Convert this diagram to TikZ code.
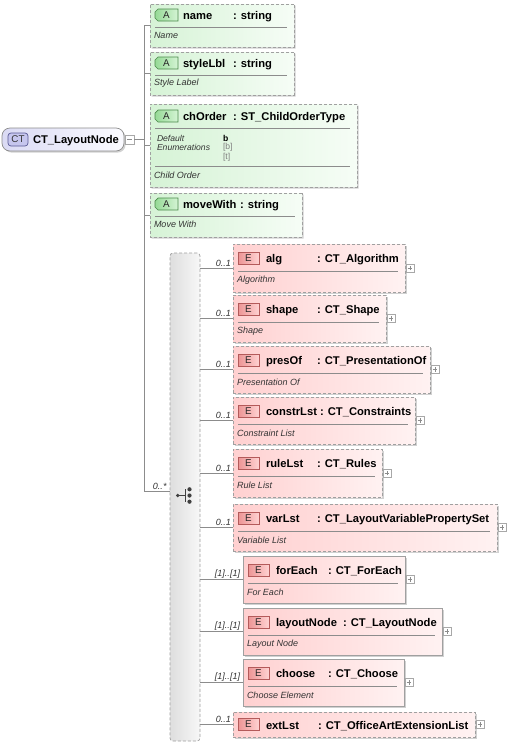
\documentclass[tikz,border=0pt]{standalone}
\usepackage{fontspec}
\setmainfont{Liberation Sans}
\usetikzlibrary{shapes.misc,shadows,calc}
\definecolor{lineG}{HTML}{8C8C8C}
\definecolor{boxB}{HTML}{A0A0A0}
\definecolor{attL}{HTML}{D6F3D6}
\definecolor{attR}{HTML}{F6FDF6}
\definecolor{elL}{HTML}{FFD0D0}
\definecolor{elR}{HTML}{FFF2F2}
\definecolor{ebL}{HTML}{EC9494}
\definecolor{ebR}{HTML}{FFD2D2}
\definecolor{ebB}{HTML}{B45A5A}
\definecolor{abL}{HTML}{96DA96}
\definecolor{abR}{HTML}{D4F4D4}
\definecolor{abB}{HTML}{4A8A4A}
\definecolor{ctL}{HTML}{DADAF4}
\definecolor{ctR}{HTML}{FBFBFF}
\definecolor{cbF}{HTML}{C6C6EE}
\definecolor{cbB}{HTML}{5A5A96}
\definecolor{docC}{HTML}{333333}
\definecolor{btnB}{HTML}{A8A8A8}
\tikzset{
  conn/.style={draw=lineG, line width=0.7pt},
  sepl/.style={draw=black!45, line width=0.6pt},
  shad/.style={drop shadow={shadow xshift=1.6pt, shadow yshift=-1.6pt, opacity=0.18, fill=black}},
  optb/.style={dash pattern=on 3pt off 2pt},
  reqb/.style={solid},
  ab/.style={chamfered rectangle, chamfered rectangle xsep=4pt, chamfered rectangle ysep=4pt,
    draw=boxB, line width=0.7pt, optb, left color=attL, right color=attR, anchor=north west, shad},
  elb/.style={rectangle, draw=boxB, line width=0.7pt, left color=elL, right color=elR, anchor=north west, shad},
  seqb/.style={rectangle, rounded corners=3pt, draw=boxB, line width=0.7pt, optb,
    left color=black!13, right color=black!3, anchor=north west},
  ctb/.style={rectangle, rounded corners=8pt, draw=black!45, line width=0.7pt, left color=ctL, right color=ctR, anchor=north west, shad},
  ctbadge/.style={rectangle, rounded corners=3pt, draw=cbB, line width=0.7pt, fill=cbF, anchor=north west,
    minimum width=20pt, minimum height=13pt, font=\fontsize{9.8}{11}\selectfont, text=black!80},
  ebadge/.style={rectangle, draw=ebB, line width=0.7pt, left color=ebL, right color=ebR, anchor=north west,
    minimum width=21pt, minimum height=12pt, font=\fontsize{9.8}{11}\selectfont, text=black!85},
  abadge/.style={rectangle, draw=none, anchor=north west,
    minimum width=23pt, minimum height=12pt, font=\fontsize{9.8}{11}\selectfont, text=black!85},
  abshape/.style={draw=abB, line width=0.7pt, left color=abL, right color=abR},
  nm/.style={anchor=base west, font=\fontsize{11.2}{13}\selectfont\bfseries, text=black},
  doc/.style={anchor=west, font=\fontsize{9}{10}\selectfont\itshape, text=docC},
  card/.style={anchor=south east, font=\fontsize{9}{10}\selectfont\itshape, text=docC},
  plusbtn/.style={rectangle, draw=btnB, line width=0.6pt, fill=white, minimum size=8pt, anchor=west,
    path picture={\draw[black!45, line width=0.6pt] ([xshift=-2.3pt]path picture bounding box.center) -- ([xshift=2.3pt]path picture bounding box.center)
      ([yshift=-2.3pt]path picture bounding box.center) -- ([yshift=2.3pt]path picture bounding box.center);}},
  minusbtn/.style={rectangle, draw=btnB, line width=0.6pt, fill=white, minimum size=9pt, anchor=west,
    path picture={\draw[black!45, line width=0.6pt] ([xshift=-2.5pt]path picture bounding box.center) -- ([xshift=2.5pt]path picture bounding box.center);}},
}
% A badge: chamfered on the left side, drawn round a plain node
\newcommand\abadgeat[3]{% id, x, y (top-left)
  \path[abshape] (#2+3,#3) -- (#2+23,#3) -- (#2+23,#3+12) -- (#2+3,#3+12) -- (#2,#3+9) -- (#2,#3+3) -- cycle;
  \node[abadge] (#1) at (#2,#3) {A};
}
\newcommand\elbox[6]{%
  \node[elb,#6,minimum width={#4-#2},minimum height={#5-#3}] (#1) at (#2,#3) {};
  \node[plusbtn] (#1x) at ([xshift=1pt]#1.east) {};
}
\newcommand\eltext[7]{%
  \node[ebadge] (#1b) at (#2+5,#3+8) {E};
  \node[nm] (#1n) at (#2+33,#3+18) {#4};
  \node[nm] (#1t) at (#5,#3+18) {#6};
  \draw[sepl] (#2+5,#3+27) -- ([xshift=-7pt]#1.east |- 0,#3+27);
  \node[doc] (#1d) at (#2+4,#3+36) {#7};
}
\newcommand\attbox[5]{%
  \node[ab,minimum width={#4-#2},minimum height={#5-#3}] (#1) at (#2,#3) {};
}
\newcommand\atttext[6]{%
  \abadgeat{#1b}{#2+5}{#3+5}
  \node[nm] (#1n) at (#2+33,#3+15) {#4};
  \node[nm] (#1t) at (#5,#3+15) {: string};
  \draw[sepl] (#2+5,#3+23) -- ([xshift=-7pt]#1.east |- 0,#3+23);
  \node[doc] (#1d) at (#2+4,#3+31) {#6};
}
\begin{document}
\begin{tikzpicture}[x=1pt,y=-1pt, every node/.style={inner sep=0pt, outer sep=0pt}]
\useasboundingbox (0,0) rectangle (508,745);
\fill[white] (0,0) rectangle (508,745);

% root
\node[ctb, minimum width=122pt, minimum height=23pt] (ct) at (2,128) {};
\node[ctbadge] (ctbg) at (8,133) {CT};
\node[nm] (ctn) at (33,143.2) {CT\_LayoutNode};
\node[minusbtn] (ctx) at ([xshift=1pt]ct.east) {};

% attributes
\attbox{a1}{150}{4}{294}{47}
\atttext{a1}{150}{4}{name}{233}{Name}
\attbox{a2}{150}{52}{294}{95}
\atttext{a2}{150}{52}{styleLbl}{233}{Style Label}
\node[ab, minimum width=207pt, minimum height=83pt] (a3) at (150,104) {};
\abadgeat{a3b}{155}{110}
\node[nm] (a3n) at (183,120) {chOrder};
\node[nm] (a3t) at (233,120) {: ST\_ChildOrderType};
\draw[sepl] (155,128) -- ([xshift=-7pt]a3.east |- 0,128);
\node[doc, font=\fontsize{8.6}{10}\selectfont\itshape] (a3k1) at (157,138) {Default};
\node[doc, font=\fontsize{8.6}{10}\selectfont\itshape] (a3k2) at (157,147.5) {Enumerations};
\node[anchor=west, font=\fontsize{8.6}{10}\selectfont\bfseries] (a3v1) at (223,138) {b};
\node[anchor=west, font=\fontsize{8.6}{10}\selectfont, text=black!50] (a3v2) at (223,147.5) {[b]};
\node[anchor=west, font=\fontsize{8.6}{10}\selectfont, text=black!50] (a3v3) at (223,157) {[t]};
\draw[sepl] (155,166) -- ([xshift=-7pt]a3.east |- 0,166);
\node[doc] (a3d) at (154,175) {Child Order};
\attbox{a4}{150}{193}{302}{237}
\atttext{a4}{150}{193}{moveWith}{240}{Move With}

% sequence compositor
\node[seqb, minimum width=30pt, minimum height=488pt] (seq) at (170,253) {};
\coordinate (trk) at (144,0);
\coordinate (seqlink) at (144,491);

% elements
\elbox{e1}{233}{244}{405}{292}{optb}
\eltext{e1}{233}{244}{alg}{317}{: CT\_Algorithm}{Algorithm}
\elbox{e2}{233}{295}{386}{342}{optb}
\eltext{e2}{233}{295}{shape}{317}{: CT\_Shape}{Shape}
\elbox{e3}{233}{346}{430}{393}{optb}
\eltext{e3}{233}{346}{presOf}{317}{: CT\_PresentationOf}{Presentation Of}
\elbox{e4}{233}{397}{415}{444}{optb}
\eltext{e4}{233}{397}{constrLst}{320}{: CT\_Constraints}{Constraint List}
\elbox{e5}{233}{449}{382}{497}{optb}
\eltext{e5}{233}{449}{ruleLst}{317}{: CT\_Rules}{Rule List}
\elbox{e6}{233}{504}{497}{551}{optb}
\eltext{e6}{233}{504}{varLst}{317}{: CT\_LayoutVariablePropertySet}{Variable List}
\elbox{e7}{243}{556}{405}{603}{reqb}
\eltext{e7}{243}{556}{forEach}{328}{: CT\_ForEach}{For Each}
\elbox{e8}{243}{608}{442}{655}{reqb}
\eltext{e8}{243}{608}{layoutNode}{343}{: CT\_LayoutNode}{Layout Node}
\elbox{e9}{243}{659}{404}{706}{reqb}
\eltext{e9}{243}{659}{choose}{328}{: CT\_Choose}{Choose Element}
\elbox{e10}{233}{712}{475}{737}{optb}
\node[ebadge] (e10b) at (238,718) {E};
\node[nm] (e10n) at (266,729) {extLst};
\node[nm] (e10t) at (318,729) {: CT\_OfficeArtExtensionList};

% connectors
\draw[conn] (ctx.east) -- (ctx.east -| trk);
\draw[conn] (a1.west -| trk) -- (seqlink);
\foreach \a in {a1,a2,a3,a4} \draw[conn] (\a.west -| trk) -- (\a.west);
\draw[conn] (seqlink) -- (seqlink -| seq.west);
\node[card] (seqc) at ([shift={(-3.5pt,1.5pt)}]seqlink -| seq.west) {0..*};
\foreach \e in {e1,e2,e3,e4,e5,e6,e10} {
  \draw[conn] (\e.west -| seq.east) -- (\e.west);
  \node[card] (\e c) at ([shift={(-2pt,1.5pt)}]\e.west) {0..1};
}
\foreach \e in {e7,e8,e9} {
  \draw[conn] (\e.west -| seq.east) -- (\e.west);
  \node[card] (\e c) at ([shift={(-3pt,1.5pt)}]\e.west) {[1]..[1]};
}

% sequence icon
\fill[black!75] (177.7,495.5) circle (1.9);
\draw[black!75, line width=0.8pt] (177.7,495.5) -- (185,495.5) (185,489.3) -- (185,501.7);
\fill[black!75] (189.5,489.3) circle (2.1) (189.5,495.5) circle (2.1) (189.5,501.7) circle (2.1);
\end{tikzpicture}
\end{document}
